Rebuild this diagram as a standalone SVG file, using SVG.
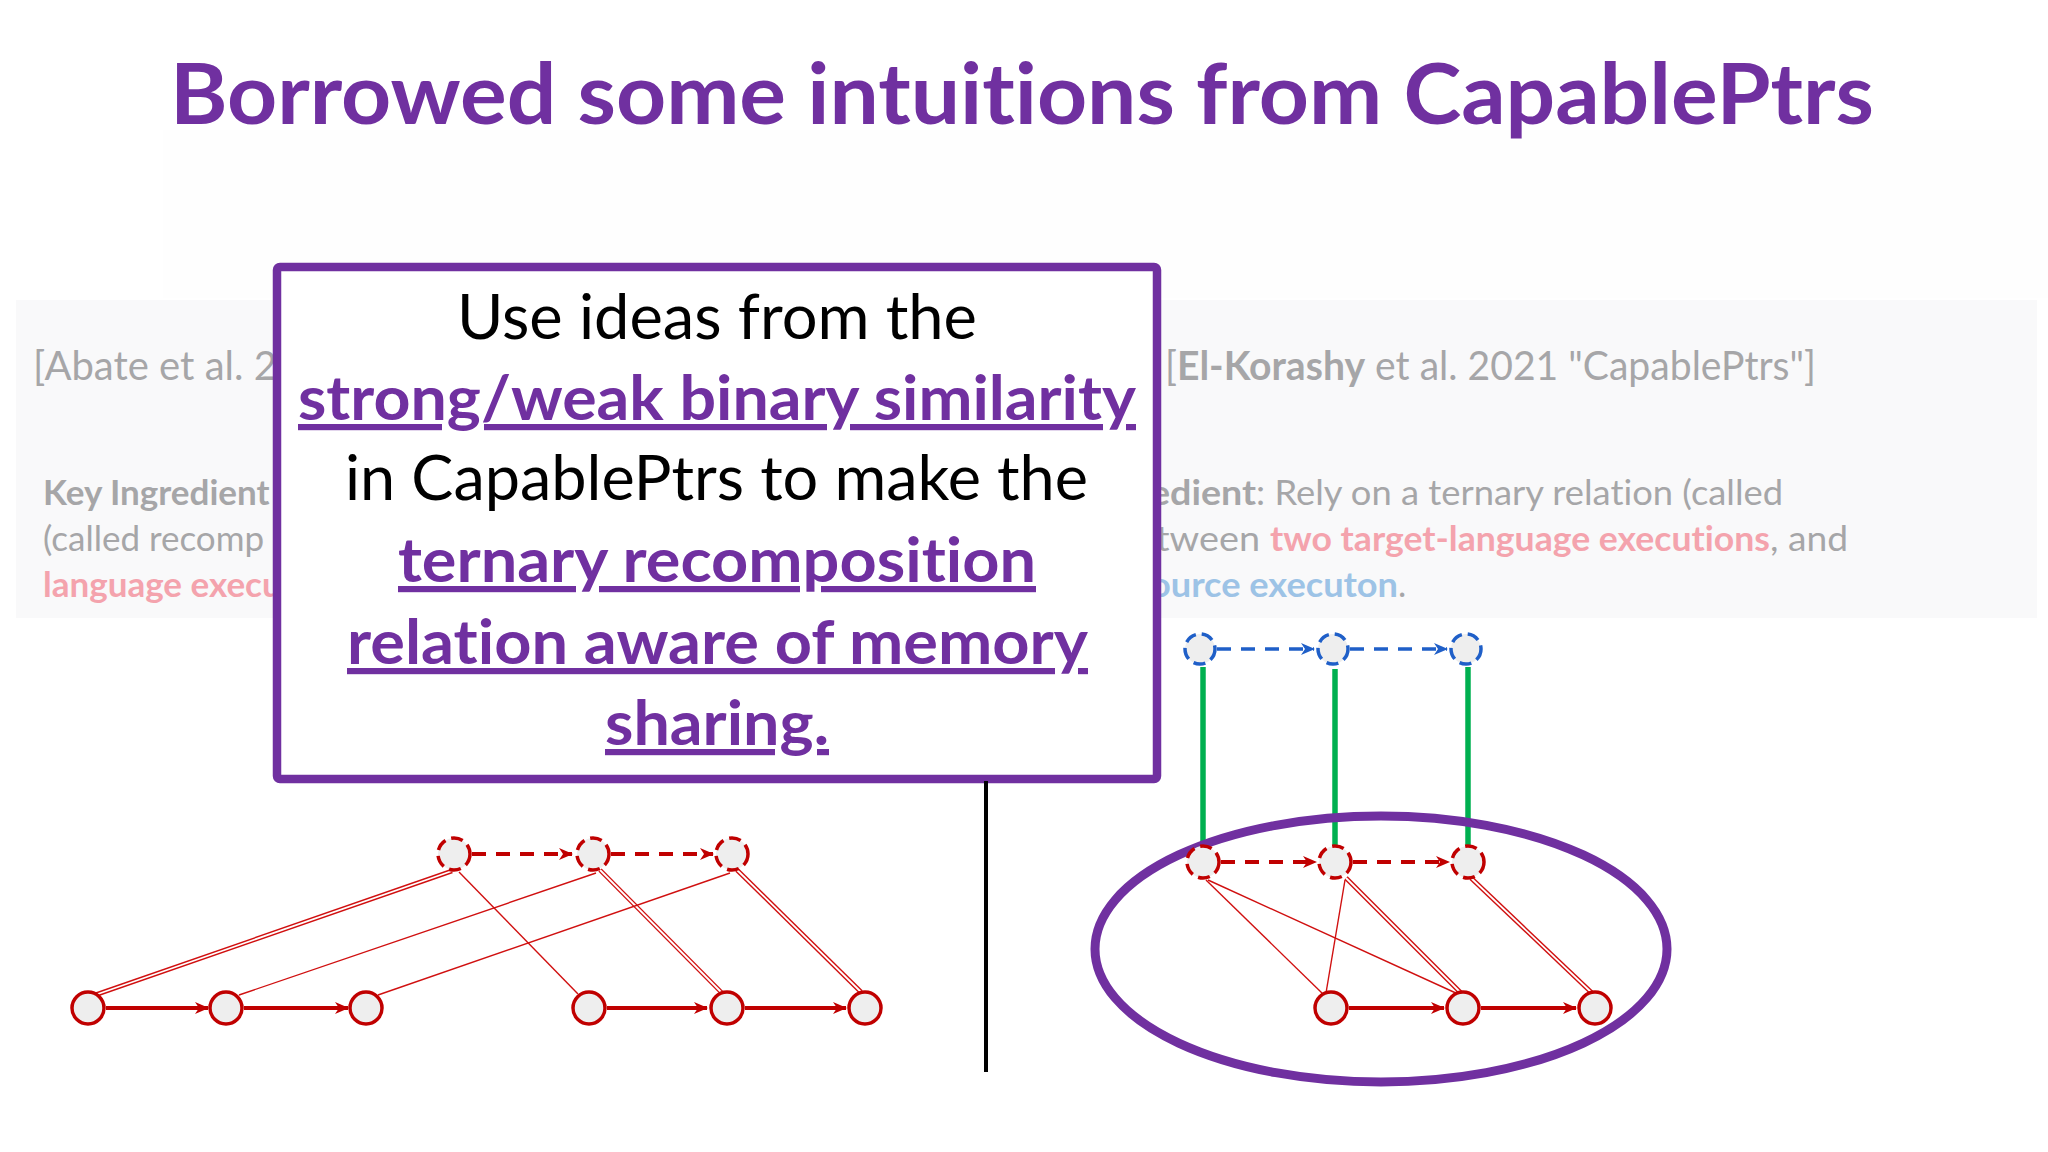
<svg xmlns="http://www.w3.org/2000/svg" width="2048" height="1152" viewBox="0 0 2048 1152">
<style>
text{font-variant-ligatures:none}
.title{font-family:Lato,"Open Sans","Liberation Sans",sans-serif;font-weight:700;font-size:84px;fill:#7030a0}
.ref{font-family:Lato,"Open Sans","Liberation Sans",sans-serif;font-size:40px;fill:#a6a6a8}
.body{font-family:Lato,"Open Sans","Liberation Sans",sans-serif;font-size:35px;fill:#a6a6a8}
.b{font-weight:700}
.pink{fill:#f4a3ad}
.blue{fill:#9dc3e6}
.bx{font-family:Lato,"Open Sans","Liberation Sans",sans-serif;font-size:62px;fill:#000}
.bxp{font-family:Lato,"Open Sans","Liberation Sans",sans-serif;font-size:62px;font-weight:700;fill:#7030a0;text-decoration:underline;text-decoration-skip-ink:none}
.node{fill:#eeeeee;stroke:#c00000;stroke-width:3.5}
.dnode{fill:#eeeeee;stroke:#c00000;stroke-width:3.5;stroke-dasharray:12 6}
.bnode{fill:#eeeeee;stroke:#1f5fc8;stroke-width:3.5;stroke-dasharray:12 6}
.solid{stroke:#c00000;stroke-width:4;fill:none;marker-end:url(#ahr)}
.dash{stroke:#c00000;stroke-width:4;fill:none;stroke-dasharray:14 10;marker-end:url(#ahr)}
.bdash{stroke:#1f5fc8;stroke-width:3.5;fill:none;stroke-dasharray:14 10;marker-end:url(#ahb)}
.thin{stroke:#d01010;stroke-width:1.4;fill:none}
.dbl{stroke:#d01010;stroke-width:4.6;fill:none}
.dblin{stroke:#ffffff;stroke-width:1.8;fill:none}
.green{stroke:#00b050;stroke-width:5.5;fill:none}
</style>
<defs>
<marker id="ahr" viewBox="0 0 14 12" refX="13" refY="6" markerWidth="14" markerHeight="12" markerUnits="userSpaceOnUse" orient="auto">
<path d="M0,0 L14,6 L0,12 L4,6 z" fill="#c00000"/>
</marker>
<marker id="ahb" viewBox="0 0 14 12" refX="13" refY="6" markerWidth="14" markerHeight="12" markerUnits="userSpaceOnUse" orient="auto">
<path d="M0,0 L14,6 L0,12 L4,6 z" fill="#1f5fc8"/>
</marker>
</defs>
<rect width="2048" height="1152" fill="#ffffff"/>
<rect x="163" y="130" width="1885" height="168" fill="#fefefe"/>
<rect x="16" y="300" width="2021" height="318" fill="#f9f9fa"/>

<text class="title" x="170" y="124" textLength="1704" lengthAdjust="spacingAndGlyphs">Borrowed some intuitions from CapablePtrs</text>

<g id="panel-left">
<text class="ref" x="33" y="380">[Abate et al. 2</text>
<text class="body b" x="43" y="505">Key Ingredient</text>
<text class="body" x="43" y="551">(called recomp</text>
<text class="body b pink" x="43" y="597">language execu</text>
</g>

<g id="panel-right">
<text class="ref" x="1165" y="380" textLength="651" lengthAdjust="spacingAndGlyphs">[<tspan class="b">El-Korashy</tspan> et al. 2021 "CapablePtrs"]</text>
<text class="body b" x="1150" y="505" textLength="106" lengthAdjust="spacingAndGlyphs">edient</text>
<text class="body" x="1256" y="505" textLength="527" lengthAdjust="spacingAndGlyphs">: Rely on a ternary relation (called</text>
<text class="body" x="1156" y="551" textLength="104" lengthAdjust="spacingAndGlyphs">tween</text>
<text class="body b pink" x="1270" y="551" textLength="500" lengthAdjust="spacingAndGlyphs">two target-language executions</text>
<text class="body" x="1770" y="551" textLength="78" lengthAdjust="spacingAndGlyphs">, and</text>
<text class="body b blue" x="1150" y="597" textLength="248" lengthAdjust="spacingAndGlyphs">ource executon</text>
<text class="body" x="1398" y="597">.</text>
</g>

<g id="callout">
<rect x="277" y="267" width="880" height="512" rx="3" fill="#ffffff" stroke="#7030a0" stroke-width="8.5"/>
<text class="bx" x="457" y="339" textLength="520" lengthAdjust="spacingAndGlyphs">Use ideas from the</text>
<text class="bxp" x="298" y="420" textLength="838" lengthAdjust="spacingAndGlyphs">strong/weak binary similarity</text>
<text class="bx" x="345" y="500" textLength="743" lengthAdjust="spacingAndGlyphs">in CapablePtrs to make the</text>
<text class="bxp" x="398" y="582" textLength="638" lengthAdjust="spacingAndGlyphs">ternary recomposition</text>
<text class="bxp" x="347" y="664" textLength="741" lengthAdjust="spacingAndGlyphs">relation aware of memory</text>
<text class="bxp" x="605" y="745" textLength="224" lengthAdjust="spacingAndGlyphs">sharing.</text>
</g>

<g id="divider">
<line x1="986" y1="781" x2="986" y2="1072" stroke="#000" stroke-width="4"/>
</g>

<g id="connectors">
<path class="dbl" d="M452,871 L95,995"/><path class="dblin" d="M452,871 L95,995"/>
<path class="dbl" d="M600,870 L722,993"/><path class="dblin" d="M600,870 L722,993"/>
<path class="dbl" d="M737,870 L861,992"/><path class="dblin" d="M737,870 L861,992"/>
<path class="thin" d="M459,872 L578,994"/>
<path class="thin" d="M596,873 L239,995"/>
<path class="thin" d="M730,873 L378,995"/>
<path class="solid" d="M106,1008 L208,1008"/>
<path class="solid" d="M244,1008 L348,1008"/>
<path class="solid" d="M607,1008 L707,1008"/>
<path class="solid" d="M745,1008 L846,1008"/>
<path class="dash" d="M472,854 L572,854"/>
<path class="dash" d="M611,854 L713,854"/>

<path class="green" d="M1203,667 L1203,846"/>
<path class="green" d="M1335,669 L1335,846"/>
<path class="green" d="M1468,667 L1468,846"/>
<path class="dbl" d="M1346,878 L1461,993"/><path class="dblin" d="M1346,878 L1461,993"/>
<path class="dbl" d="M1471,878 L1592,993"/><path class="dblin" d="M1471,878 L1592,993"/>
<path class="thin" d="M1206,880 L1324,995"/>
<path class="thin" d="M1208,880 L1458,994"/>
<path class="thin" d="M1345,880 L1326,993"/>
<path class="solid" d="M1349,1008 L1444,1008"/>
<path class="solid" d="M1481,1008 L1576,1008"/>
<path class="dash" d="M1221,862 L1316,862"/>
<path class="dash" d="M1353,862 L1449,862"/>
<path class="bdash" d="M1217,649 L1314,649"/>
<path class="bdash" d="M1350,649 L1447,649"/>
</g>

<g id="highlight-ellipse">
<ellipse cx="1381" cy="949" rx="286" ry="133" fill="none" stroke="#7030a0" stroke-width="9"/>
</g>

<g id="nodes-left">
<g id="l-b1"><circle class="node" cx="88" cy="1008" r="16"/></g>
<g id="l-b2"><circle class="node" cx="226" cy="1008" r="16"/></g>
<g id="l-b3"><circle class="node" cx="366" cy="1008" r="16"/></g>
<g id="l-b4"><circle class="node" cx="589" cy="1008" r="16"/></g>
<g id="l-b5"><circle class="node" cx="727" cy="1008" r="16"/></g>
<g id="l-b6"><circle class="node" cx="865" cy="1008" r="16"/></g>
<g id="l-t1"><circle class="dnode" cx="454" cy="854" r="16"/></g>
<g id="l-t2"><circle class="dnode" cx="593" cy="854" r="16"/></g>
<g id="l-t3"><circle class="dnode" cx="732" cy="854" r="16"/></g>
</g>

<g id="nodes-right">
<g id="r-u1"><circle class="bnode" cx="1200" cy="649" r="15"/></g>
<g id="r-u2"><circle class="bnode" cx="1333" cy="649" r="15"/></g>
<g id="r-u3"><circle class="bnode" cx="1466" cy="649" r="15"/></g>
<g id="r-t1"><circle class="dnode" cx="1203" cy="862" r="16"/></g>
<g id="r-t2"><circle class="dnode" cx="1335" cy="862" r="16"/></g>
<g id="r-t3"><circle class="dnode" cx="1468" cy="862" r="16"/></g>
<g id="r-b1"><circle class="node" cx="1331" cy="1008" r="16"/></g>
<g id="r-b2"><circle class="node" cx="1463" cy="1008" r="16"/></g>
<g id="r-b3"><circle class="node" cx="1595" cy="1008" r="16"/></g>
</g>
</svg>
